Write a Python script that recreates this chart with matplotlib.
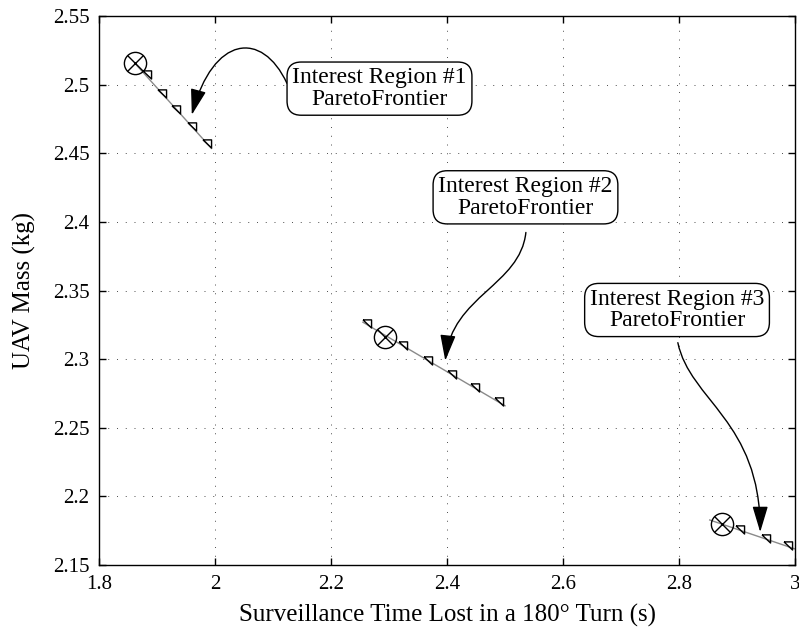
import matplotlib
matplotlib.use("Agg")
import matplotlib.pyplot as plt
from matplotlib.path import Path
from matplotlib.patches import FancyArrowPatch
from matplotlib.ticker import FuncFormatter

plt.rcParams['font.family'] = ['Liberation Serif', 'DejaVu Serif']
plt.rcParams['font.size'] = 15

# Pareto frontier samples (triangles) for each interest region
front1_x = [1.883, 1.908, 1.932, 1.960, 1.987]
front1_y = [2.5074, 2.494, 2.4821, 2.4697, 2.4575]
front2_x = [2.262, 2.325, 2.367, 2.409, 2.448, 2.490]
front2_y = [2.3264, 2.3104, 2.2994, 2.2892, 2.2794, 2.2697]
front3_x = [2.905, 2.950, 2.988]
front3_y = [2.176, 2.1699, 2.1644]

# fitted frontier lines
line1_x = [1.862, 1.994]
line1_y = [2.5155, 2.4535]
line2_x = [2.255, 2.500]
line2_y = [2.3269, 2.266]
line3_x = [2.853, 3.0]
line3_y = [2.1828, 2.1617]

# interest points
interest_x = [1.862, 2.293, 2.8736]
interest_y = [2.5155, 2.3159, 2.1797]

labels = ["Interest Region #1\nParetoFrontier",
          "Interest Region #2\nParetoFrontier",
          "Interest Region #3\nParetoFrontier"]
label_pos = [(2.2836, 2.4971), (2.5353, 2.4179), (2.7966, 2.3358)]

# hand drawn curved arrows (bezier control points, data coords)
arrow_paths = [
    [(2.124, 2.501), (2.081, 2.540), (1.997, 2.536), (1.960, 2.478)],
    [(2.536, 2.3923), (2.526, 2.3536), (2.409, 2.3464), (2.397, 2.2989)],
    [(2.798, 2.312), (2.819, 2.2697), (2.940, 2.2551), (2.940, 2.174)],
]

tri = [(-1, 0.8), (0.9, 0.8), (0.9, -1), (-1, 0.8)]

fig = plt.figure(figsize=(7.99, 6.31), dpi=100)
ax = fig.add_axes([0.1239, 0.1046, 0.8711, 0.870])

for lx, ly in [(line1_x, line1_y), (line2_x, line2_y), (line3_x, line3_y)]:
    ax.plot(lx, ly, color='#8a8a8a', lw=1.0, zorder=2)

for fx, fy in [(front1_x, front1_y), (front2_x, front2_y), (front3_x, front3_y)]:
    ax.plot(fx, fy, ls='none', marker=tri, ms=6.5, mfc='none', mec='black',
            mew=1.0, zorder=3)

ax.plot(interest_x, interest_y, ls='none', marker='o', ms=16, mfc='none',
        mec='black', mew=1.0, zorder=4)
ax.plot(interest_x, interest_y, ls='none', marker='x', ms=11.3, mec='black',
        mew=1.0, zorder=4)

for txt, (tx, ty) in zip(labels, label_pos):
    ax.text(tx, ty, txt, ha='center', va='center', fontsize=17,
            linespacing=1.05, zorder=6,
            bbox=dict(boxstyle='round,pad=0.22,rounding_size=0.6',
                      fc='white', ec='black', lw=1.0))

for pts in arrow_paths:
    p = Path(pts, [Path.MOVETO, Path.CURVE4, Path.CURVE4, Path.CURVE4])
    arr = FancyArrowPatch(path=p, arrowstyle='-|>,head_length=1.6,head_width=0.48',
                          mutation_scale=10, color='black', lw=1.0,
                          shrinkA=0, shrinkB=0, zorder=5)
    ax.add_patch(arr)

ax.set_xlim(1.8, 3.0)
ax.set_ylim(2.15, 2.55)
ax.set_xticks([1.8, 2.0, 2.2, 2.4, 2.6, 2.8, 3.0])
ax.set_yticks([2.15, 2.2, 2.25, 2.3, 2.35, 2.4, 2.45, 2.5, 2.55])
fmt = FuncFormatter(lambda v, pos: '%g' % round(v, 3))
ax.xaxis.set_major_formatter(fmt)
ax.yaxis.set_major_formatter(fmt)
ax.tick_params(direction='in', top=True, right=True, length=5, width=1.0,
               labelsize=15, pad=7)
ax.grid(True, color='0.3', ls=(0, (1, 8)), lw=0.7)
for s in ax.spines.values():
    s.set_linewidth(1.0)

ax.set_xlabel("Surveillance Time Lost in a 180° Turn (s)", fontsize=18, labelpad=7)
ax.set_ylabel("UAV Mass (kg)", fontsize=18, labelpad=12)

fig.savefig("out.png", dpi=100)
